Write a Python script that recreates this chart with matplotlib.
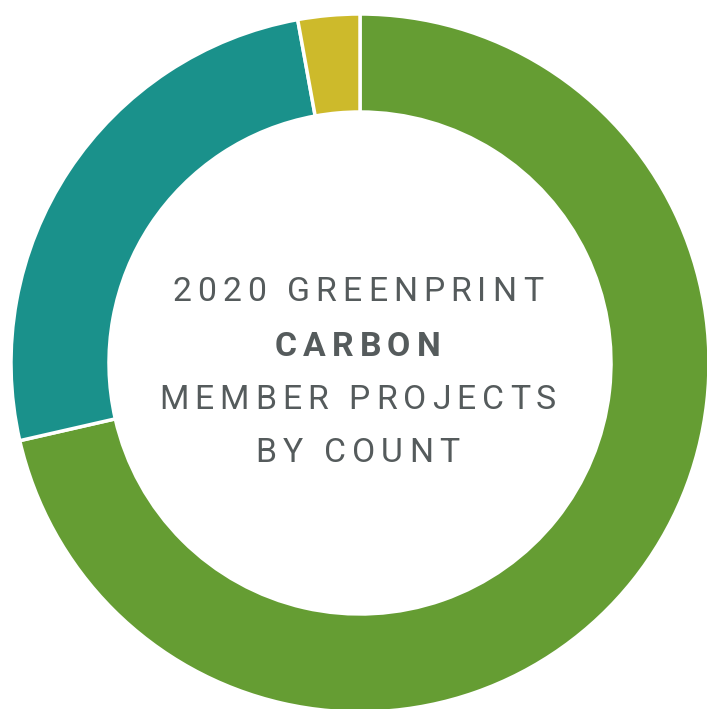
import matplotlib
matplotlib.use('Agg')
import matplotlib.pyplot as plt

# share of member projects by count
categories = ['Category A', 'Category B', 'Category C']
counts = [25, 9, 1]
colors = ['#659d33', '#1a918b', '#cdba2b']

title_lines = ['2020 GREENPRINT', 'CARBON', 'MEMBER PROJECTS', 'BY COUNT']
title_bold = [False, True, False, False]

W, H = 707, 709
fig = plt.figure(figsize=(W / 100, H / 100), dpi=100)
ax = fig.add_axes([0, 0, 1, 1])

ax.pie(counts, colors=colors, startangle=90, counterclock=False,
       radius=349, center=(360, H - 363),
       wedgeprops=dict(width=98, edgecolor='white', linewidth=2.5))
ax.set_xlim(0, W)
ax.set_ylim(0, H)
ax.set_aspect('equal')
ax.set_axis_off()

renderer = fig.canvas.get_renderer()
fsize = 24.3
track = 0.18 * fsize * 100 / 72  # letter spacing in pixels
text_color = '#555b5c'


def text_width(s, weight):
    t = ax.text(0, 0, s + '|', fontsize=fsize, family='Roboto', weight=weight)
    w = t.get_window_extent(renderer).width
    t.remove()
    t = ax.text(0, 0, '|', fontsize=fsize, family='Roboto', weight=weight)
    w -= t.get_window_extent(renderer).width
    t.remove()
    return w


def spaced_text(s, cx, cy, weight):
    total = text_width(s, weight) + track * (len(s) - 1)
    x0 = cx - total / 2
    for i, ch in enumerate(s):
        x = x0 + text_width(s[:i], weight) + track * i if i else x0
        ax.text(x, cy, ch, fontsize=fsize, family='Roboto', weight=weight,
                color=text_color, ha='left', va='baseline')


baselines_y = [301, 356, 409, 461.5]
for line, bold, yy in zip(title_lines, title_bold, baselines_y):
    spaced_text(line, 357.5, H - yy, 'bold' if bold else 'normal')

fig.savefig('out.png', dpi=100)
